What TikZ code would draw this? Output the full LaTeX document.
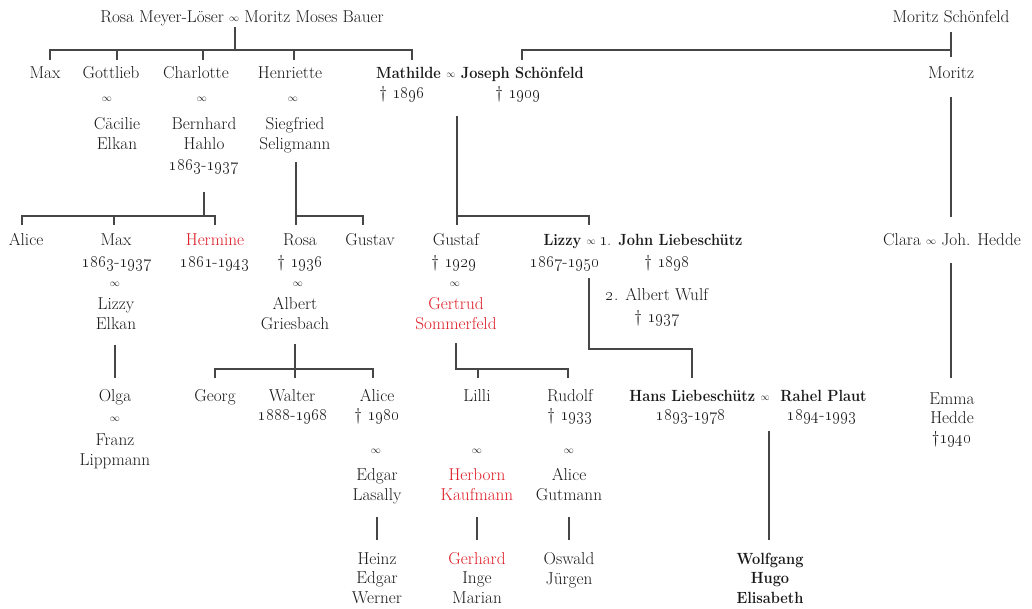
\documentclass[tikz,border=0pt]{standalone}
\usepackage{graphicx}
\definecolor{lred}{RGB}{222,28,38}
\definecolor{ink}{RGB}{25,25,25}
\definecolor{lgray}{RGB}{70,70,70}
\newcommand\marr{\raisebox{0.15ex}{\scalebox{0.58}{$\infty$}}}
\newcommand\os[1]{\oldstylenums{#1}}
\tikzset{
  t/.style={anchor=mid, inner sep=0pt, align=center, font=\fontsize{17.2}{19.5}\selectfont, text=ink},
  tb/.style={t, font=\fontsize{16.2}{19.5}\selectfont\bfseries, xscale=0.9},
  rd/.style={text=lred},
  ln/.style={draw=lgray, line width=1.2pt}
}
\begin{document}
\begin{tikzpicture}[x=1pt,y=-1pt]
\useasboundingbox (0,0) rectangle (1032,608);
\begin{scope}[shift={(0,3)}]
% ---------- generation 0
\node[t] (rosa) at (242,17) {Rosa Meyer-Löser \marr{} Moritz Moses Bauer};
\node[t] (mschoen) at (951,17) {Moritz Schönfeld};
% ---------- generation 1
\node[t] (max1) at (45,73) {Max};
\node[t] (gott) at (111,73) {Gottlieb};
\node[t] (gottm) at (107,97) {\marr};
\node[t] (caec) at (117,144) {Cäcilie\\Elkan};
\node[t] (charl) at (196,73) {Charlotte};
\node[t] (charm) at (202,97) {\marr};
\node[t] (bern) at (204,144) {Bernhard\\Hahlo};
\node[t] (bernd) at (204,165) {\os{1863}-\os{1937}};
\node[t] (henr) at (290,73) {Henriette};
\node[t] (henm) at (293,97) {\marr};
\node[t] (sieg) at (295,144) {Siegfried\\Seligmann};
\node[tb] (math) at (480,73) {Mathilde \textmd{\marr} Joseph Schönfeld};
\node[t] (mathd) at (402,93) {\textdagger\ \os{1896}};
\node[t] (josd) at (518,93) {\textdagger\ \os{1909}};
\node[t] (moritz) at (951,73) {Moritz};
% ---------- generation 2
\node[t] (alice1) at (26,240) {Alice};
\node[t] (max2) at (116,240) {Max};
\node[t] (max2d) at (117,262) {\os{1863}-\os{1937}};
\node[t] (max2m) at (115,282) {\marr};
\node[t] (lizzyE) at (116,324) {Lizzy\\Elkan};
\node[t,rd] (herm) at (215,240) {Hermine};
\node[t] (hermd) at (215,262) {\os{1861}-\os{1943}};
\node[t] (rosa2) at (300,240) {Rosa};
\node[t] (rosa2d) at (300,262) {\textdagger\ \os{1936}};
\node[t] (rosam) at (298,282) {\marr};
\node[t] (albert) at (295,324) {Albert\\Griesbach};
\node[t] (gustav) at (370,240) {Gustav};
\node[t] (gustaf) at (456,240) {Gustaf};
\node[t] (gustafd) at (454,262) {\textdagger\ \os{1929}};
\node[t] (gustafm) at (455,282) {\marr};
\node[t,rd] (gert) at (456,324) {Gertrud\\Sommerfeld};
\node[tb] (lizzy) at (643,240) {Lizzy \textmd{\marr{} \os{1}.} John Liebeschütz};
\node[t] (lizzyd) at (565,262) {\os{1867}-\os{1950}};
\node[t] (johnd) at (667,262) {\textdagger\ \os{1898}};
\node[t] (wulf) at (657,295) {\os{2}. Albert Wulf};
\node[t] (wulfd) at (657,317) {\textdagger\ \os{1937}};
\node[t] (clara) at (952,240) {Clara \marr{} Joh. Hedde};
% ---------- generation 3
\node[t] (olga) at (115,396) {Olga};
\node[t] (olgam) at (115,417) {\marr};
\node[t] (franz) at (115,460) {Franz\\Lippmann};
\node[t] (georg) at (215,396) {Georg};
\node[t] (walter) at (292,396) {Walter};
\node[t] (walterd) at (293,415) {\os{1888}-\os{1968}};
\node[t] (alice2) at (377,396) {Alice};
\node[t] (alice2d) at (377,415) {\textdagger\ \os{1980}};
\node[t] (alice2m) at (376,449) {\marr};
\node[t] (edgar) at (377,495) {Edgar\\Lasally};
\node[t] (lilli) at (477,396) {Lilli};
\node[t] (lillim) at (477,449) {\marr};
\node[t,rd] (herb) at (477,495) {Herborn\\Kaufmann};
\node[t] (rudolf) at (570,396) {Rudolf};
\node[t] (rudolfd) at (570,415) {\textdagger\ \os{1933}};
\node[t] (rudm) at (569,449) {\marr};
\node[t] (aliceg) at (569,495) {Alice\\Gutmann};
\node[tb] (hans) at (748,396) {Hans Liebeschütz \textmd{\marr}\ \ Rahel Plaut};
\node[t] (hansd) at (691,415) {\os{1893}-\os{1978}};
\node[t] (rahd) at (822,415) {\os{1894}-\os{1993}};
\node[t] (emma) at (952,438) {Emma\\Hedde\\\textdagger\os{1940}};
% ---------- generation 4
\node[t] (heinz) at (377,598) {Heinz\\Edgar\\Werner};
\node[t] (gerh) at (477,598) {\textcolor{lred}{Gerhard}\\Inge\\Marian};
\node[t] (oswald) at (569,579) {Oswald\\Jürgen};
\node[tb] (wolf) at (770,598) {Wolfgang\\Hugo\\Elisabeth};
\end{scope}
% ---------- junction coordinates
\coordinate (c0) at (235,27);  \coordinate (b0) at (235,50);
\coordinate (b0l) at (50,50);  \coordinate (b0r) at (412,50);
\coordinate (s0) at (951,32);  \coordinate (s0b) at (951,50); \coordinate (s0l) at (522,50);
\coordinate (c1) at (204,192); \coordinate (b1) at (204,216);
\coordinate (b1l) at (22,216); \coordinate (b1r) at (215,216);
\coordinate (c2) at (296,162); \coordinate (b2) at (296,216); \coordinate (b2r) at (363,216);
\coordinate (c3) at (457,116); \coordinate (b3) at (457,216); \coordinate (b3r) at (589,216);
\coordinate (c4) at (589,278); \coordinate (b4) at (589,349); \coordinate (b4r) at (692,349);
\coordinate (c5) at (951,97);  \coordinate (c5e) at (951,217);
\coordinate (c6) at (951,263); \coordinate (c6e) at (951,378);
\coordinate (c7) at (115,345); \coordinate (c7e) at (115,378);
\coordinate (c8) at (295,344); \coordinate (b8) at (295,369);
\coordinate (b8l) at (215,369); \coordinate (b8r) at (373,369);
\coordinate (c9) at (456,343); \coordinate (b9) at (456,369); \coordinate (b9r) at (568,369);
\coordinate (b9m) at (478,369);
\coordinate (e1) at (377,517); \coordinate (e2) at (477,517); \coordinate (e3) at (569,517);
\coordinate (h1) at (769,431); \coordinate (h1e) at (769,540);
% ---------- connectors
\draw[ln] (c0) -- (b0);
\draw[ln] ([yshift=-10]b0l) -- (b0l) -- (b0r) -- ([yshift=-10]b0r);
\foreach \x in {117,203,294} \draw[ln] (\x,50) -- (\x,60);
\draw[ln] (s0) -- ([yshift=-7]s0b);
\draw[ln] ([yshift=-10]s0l) -- (s0l) -- (s0b);
\draw[ln] (c1) -- (b1);
\draw[ln] ([yshift=-9]b1l) -- (b1l) -- (b1r) -- ([yshift=-9]b1r);
\draw[ln] (114,216) -- (114,225);
\draw[ln] (c2) -- ([yshift=-9]b2);
\draw[ln] (b2) -- (b2r) -- ([yshift=-9]b2r);
\draw[ln] (c3) -- ([yshift=-9]b3);
\draw[ln] (b3) -- (b3r) -- ([yshift=-9]b3r);
\draw[ln] (c4) -- (b4) -- (b4r) -- ([yshift=-29]b4r);
\draw[ln] (c5) -- (c5e);
\draw[ln] (c6) -- (c6e);
\draw[ln] (c7) -- (c7e);
\draw[ln] (c8) -- ([yshift=-9]b8);
\draw[ln] ([yshift=-9]b8l) -- (b8l) -- (b8r) -- ([yshift=-9]b8r);
\draw[ln] (c9) -- (b9) -- (b9r) -- ([yshift=-9]b9r);
\draw[ln] (b9m) -- ([yshift=-9]b9m);
\draw[ln] (e1) -- ([yshift=-23]e1);
\draw[ln] (e2) -- ([yshift=-23]e2);
\draw[ln] (e3) -- ([yshift=-23]e3);
\draw[ln] (h1) -- (h1e);
\end{tikzpicture}
\end{document}
